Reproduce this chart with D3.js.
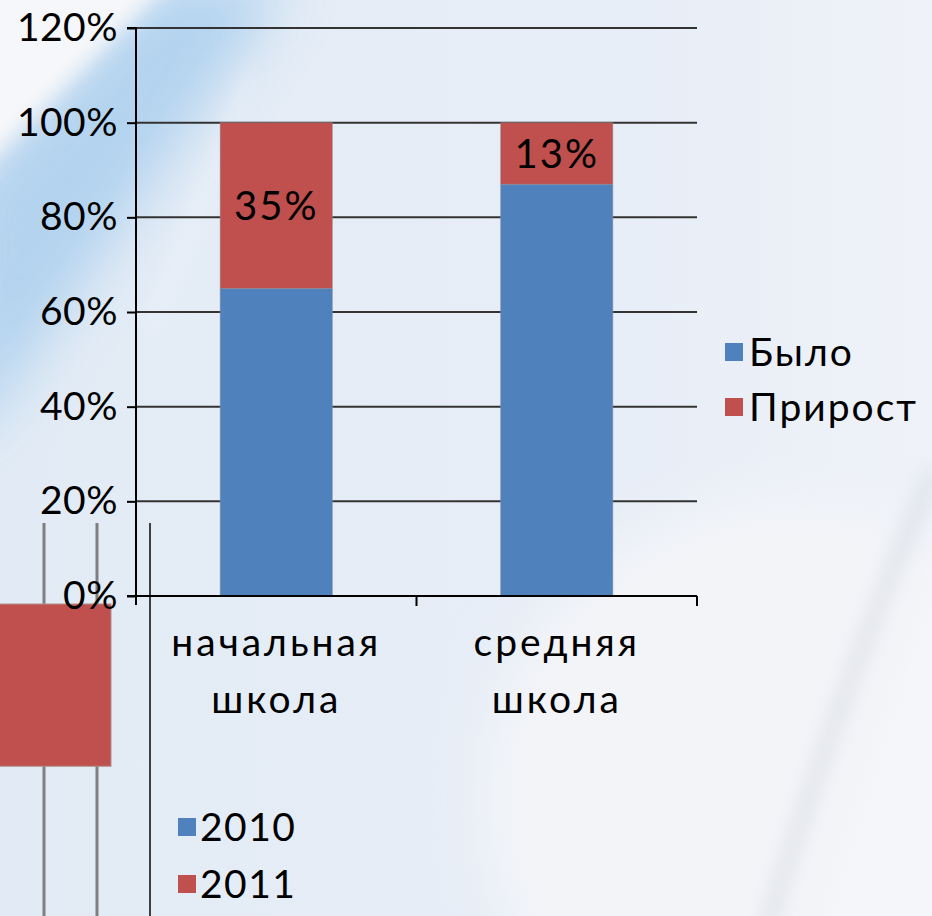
<!DOCTYPE html>
<html>
<head>
<meta charset="utf-8">
<script src="https://cdn.jsdelivr.net/npm/d3@7"></script>
<style>
  html, body { margin: 0; padding: 0; background: #e7eef6; }
  svg { display: block; }
  text { font-family: Lato, "Open Sans", "DejaVu Sans", sans-serif; fill: #000; }
</style>
</head>
<body>
<svg id="chart" width="932" height="916"></svg>
<script>
// ---- data ----
const categories = [["начальная", "школа"], ["средняя", "школа"]];
const seriesNames = ["Было", "Прирост"];
const wasValues = [0.65, 0.87];
const growthValues = [0.35, 0.13];
const growthLabels = ["35%", "13%"];
const yTickValues = [0, 0.2, 0.4, 0.6, 0.8, 1.0, 1.2];
const yTickLabels = ["0%", "20%", "40%", "60%", "80%", "100%", "120%"];

// neighbouring chart peeking in at the lower left
const otherSeries = ["2010", "2011"];
const otherBar = [0.36, 0.75];          // 2011 bar: bottom and top (fraction of its axis)

const colors = ["#4f81bd", "#c0504d"];

// ---- layout ----
const W = 932, H = 916;
const plot = { left: 136, right: 697, top: 28, bottom: 596 };

const svg = d3.select("#chart");
const defs = svg.append("defs");

// ---- backdrop ----
const blurBig = defs.append("filter").attr("id", "blurBig")
  .attr("x", "-50%").attr("y", "-50%").attr("width", "200%").attr("height", "200%");
blurBig.append("feGaussianBlur").attr("stdDeviation", 28);
const blurMid = defs.append("filter").attr("id", "blurMid")
  .attr("x", "-50%").attr("y", "-50%").attr("width", "200%").attr("height", "200%");
blurMid.append("feGaussianBlur").attr("stdDeviation", 10);

const baseGrad = defs.append("linearGradient").attr("id", "baseGrad")
  .attr("x1", 0).attr("y1", 0).attr("x2", 1).attr("y2", 0);
baseGrad.append("stop").attr("offset", "0%").attr("stop-color", "#e2ebf5");
baseGrad.append("stop").attr("offset", "70%").attr("stop-color", "#e8eef7");
baseGrad.append("stop").attr("offset", "100%").attr("stop-color", "#eff2f8");

const bg = svg.append("g");
bg.append("rect").attr("width", W).attr("height", H).attr("fill", "url(#baseGrad)");
// pale glow bottom right
bg.append("ellipse").attr("cx", 780).attr("cy", 800).attr("rx", 300).attr("ry", 300)
  .attr("fill", "#f3f4f8").attr("filter", "url(#blurBig)");
// soft grey arc bottom right
bg.append("path")
  .attr("d", "M 935 470 Q 850 660 766 930")
  .attr("fill", "none").attr("stroke", "#cfd4dc").attr("stroke-width", 10)
  .attr("opacity", 0.8).attr("filter", "url(#blurMid)");
bg.append("path")
  .attr("d", "M 960 500 Q 890 690 815 940 L 940 940 Z")
  .attr("fill", "#f5f6f9").attr("filter", "url(#blurMid)");
// blue diagonal band top left
bg.append("path")
  .attr("d", "M -40 460 L -40 190 L 160 -20 L 290 -20 Z")
  .attr("fill", "#aacfee").attr("opacity", 0.85).attr("filter", "url(#blurBig)");
// white corner top left
bg.append("path")
  .attr("d", "M -40 -40 L 190 -40 L -40 190 Z")
  .attr("fill", "#f6f7fa").attr("filter", "url(#blurMid)");
// faint pale streak
bg.append("path")
  .attr("d", "M 150 330 L 250 70")
  .attr("stroke", "#ffffff").attr("stroke-width", 6).attr("opacity", 0.5)
  .attr("filter", "url(#blurMid)");

// ---- neighbouring chart fragment (lower left) ----
const otherY = d3.scaleLinear().domain([0, 1]).range([916, 500]);
const frag = svg.append("g");
[44, 97].forEach(x => {
  frag.append("line").attr("x1", x).attr("x2", x)
    .attr("y1", 523).attr("y2", H)
    .attr("stroke", "#7f7f7f").attr("stroke-width", 3);
});
frag.append("line").attr("x1", 150).attr("x2", 150)
  .attr("y1", 523).attr("y2", H)
  .attr("stroke", "#404040").attr("stroke-width", 2);
frag.append("rect")
  .attr("x", -2).attr("width", 113)
  .attr("y", otherY(otherBar[1]))
  .attr("height", otherY(otherBar[0]) - otherY(otherBar[1]))
  .attr("fill", colors[1]).attr("stroke", "#b0908e").attr("stroke-width", 1);

const otherLegend = frag.selectAll("g.ol").data(otherSeries).join("g")
  .attr("class", "ol")
  .attr("transform", (d, i) => `translate(178, ${818 + i * 57})`);
otherLegend.append("rect").attr("width", 18).attr("height", 18)
  .attr("fill", (d, i) => colors[i]);
otherLegend.append("text").attr("x", 22).attr("y", 9).attr("dy", "0.36em")
  .attr("font-size", 39).attr("letter-spacing", 1.5).text(d => d);

// ---- scales ----
const x = d3.scaleBand().domain(d3.range(categories.length))
  .range([plot.left, plot.right]).paddingInner(0.6).paddingOuter(0.3);
const y = d3.scaleLinear().domain([0, 1.2]).range([plot.bottom, plot.top]);

const chart = svg.append("g");

// gridlines
chart.append("g")
  .selectAll("line").data(yTickValues.filter(v => v > 0)).join("line")
  .attr("x1", plot.left).attr("x2", plot.right)
  .attr("y1", d => y(d)).attr("y2", d => y(d))
  .attr("stroke", "#333").attr("stroke-width", 2);

// stacked bars
const stackData = categories.map((c, i) => ({ i, was: wasValues[i], growth: growthValues[i] }));
const stack = d3.stack().keys(["was", "growth"])(stackData);
chart.append("g").selectAll("g").data(stack).join("g")
  .attr("fill", (d, k) => colors[k])
  .selectAll("rect").data(d => d).join("rect")
  .attr("x", d => x(d.data.i))
  .attr("width", x.bandwidth())
  .attr("y", d => y(d[1]))
  .attr("height", d => y(d[0]) - y(d[1]))
  .attr("stroke", "#8a8f99").attr("stroke-width", 0.8).attr("stroke-opacity", 0.6);

// value labels on the growth segments
const growthLayer = stack[1];
chart.append("g").selectAll("text").data(growthLayer).join("text")
  .attr("x", d => x(d.data.i) + x.bandwidth() / 2)
  .attr("y", d => (y(d[0]) + y(d[1])) / 2)
  .attr("dy", "0.36em")
  .attr("text-anchor", "middle")
  .attr("font-size", 40)
  .attr("letter-spacing", 2)
  .text((d, i) => growthLabels[i]);

// y axis
const yAxis = d3.axisLeft(y).tickValues(yTickValues)
  .tickFormat((d, i) => yTickLabels[i]).tickSize(9).tickPadding(9);
const ya = chart.append("g").attr("transform", `translate(${plot.left},0)`).call(yAxis);
ya.select(".domain").attr("stroke", "#000").attr("stroke-width", 2)
  .attr("d", `M-9,${plot.top}H0V${plot.bottom + 9}`);
ya.selectAll(".tick line").attr("stroke", "#000").attr("stroke-width", 2);
ya.selectAll(".tick text").attr("font-size", 39).attr("fill", "#000")
  .attr("letter-spacing", 0.5)
  .style("font-family", "Lato, 'Open Sans', sans-serif");

// x axis with ticks between categories
const edges = d3.range(categories.length + 1).map(k => plot.left + k * (plot.right - plot.left) / categories.length);
const xa = chart.append("g");
xa.append("line").attr("x1", plot.left - 9).attr("x2", plot.right)
  .attr("y1", plot.bottom).attr("y2", plot.bottom)
  .attr("stroke", "#000").attr("stroke-width", 2);
xa.selectAll("line.tk").data(edges.slice(1)).join("line").attr("class", "tk")
  .attr("x1", d => d).attr("x2", d => d)
  .attr("y1", plot.bottom).attr("y2", plot.bottom + 10)
  .attr("stroke", "#000").attr("stroke-width", 2);
const catLabels = xa.selectAll("text.cat").data(categories).join("text").attr("class", "cat")
  .attr("text-anchor", "middle")
  .attr("font-size", 39)
  .attr("letter-spacing", 3)
  .attr("transform", (d, i) => `translate(${x(i) + x.bandwidth() / 2},${plot.bottom})`);
catLabels.selectAll("tspan").data(d => d).join("tspan")
  .attr("x", 0)
  .attr("y", (d, j) => 60 + j * 57)
  .text(d => d);

// legend
const legend = svg.append("g").selectAll("g").data(seriesNames).join("g")
  .attr("transform", (d, i) => `translate(725, ${343 + i * 55})`);
legend.append("rect").attr("width", 18).attr("height", 18)
  .attr("fill", (d, i) => colors[i]);
legend.append("text").attr("x", 24).attr("y", 9).attr("dy", "0.36em")
  .attr("font-size", 39).attr("letter-spacing", 2).text(d => d);
</script>
</body>
</html>
